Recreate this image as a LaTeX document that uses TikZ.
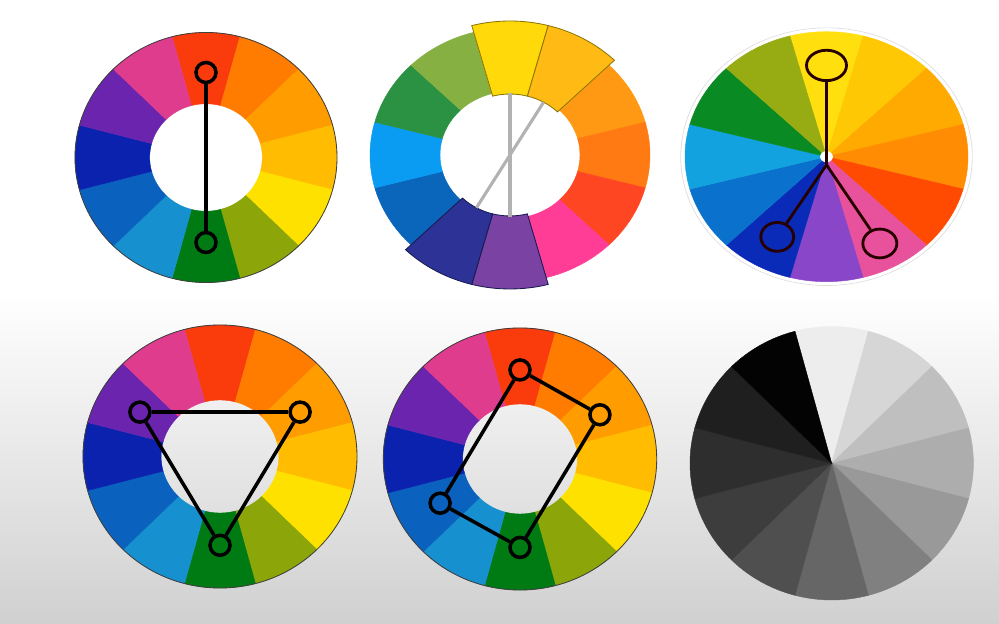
\documentclass[tikz,border=0pt]{standalone}
\usetikzlibrary{shapes.geometric}

% --- Palettes ---
\definecolor{aRed}{HTML}{FA3C0C}
\definecolor{aOrange}{HTML}{FF7C00}
\definecolor{aOrangeYel}{HTML}{FF9C00}
\definecolor{aAmber}{HTML}{FFBC00}
\definecolor{aYellow}{HTML}{FFE100}
\definecolor{aOlive}{HTML}{8CA60A}
\definecolor{aGreen}{HTML}{007A12}
\definecolor{aTeal}{HTML}{1790CF}
\definecolor{aBlue}{HTML}{0A62BE}
\definecolor{aNavy}{HTML}{0A22AE}
\definecolor{aPurple}{HTML}{6A24AE}
\definecolor{aMagenta}{HTML}{DF3C8E}

\definecolor{bYellow}{HTML}{FFD90A}
\definecolor{bAmber}{HTML}{FFBA14}
\definecolor{bOrange}{HTML}{FF9812}
\definecolor{bDeepOrange}{HTML}{FF7A12}
\definecolor{bRedOrange}{HTML}{FF4622}
\definecolor{bPink}{HTML}{FF3C96}
\definecolor{bViolet}{HTML}{7A42A2}
\definecolor{bIndigo}{HTML}{2C3296}
\definecolor{bBlue}{HTML}{0A66BA}
\definecolor{bSky}{HTML}{0A9CF2}
\definecolor{bGreen}{HTML}{2A9242}
\definecolor{bOlive}{HTML}{86B042}

\definecolor{cYellow}{HTML}{FFE00E}
\definecolor{cGold}{HTML}{FFC804}
\definecolor{cAmber}{HTML}{FFAA00}
\definecolor{cOrange}{HTML}{FF8C02}
\definecolor{cRedOrange}{HTML}{FF4A02}
\definecolor{cPink}{HTML}{E8529C}
\definecolor{cViolet}{HTML}{8A46C8}
\definecolor{cNavy}{HTML}{0A2AB8}
\definecolor{cBlue}{HTML}{0A72CC}
\definecolor{cSky}{HTML}{12A2E0}
\definecolor{cGreen}{HTML}{0A8A22}
\definecolor{cOlive}{HTML}{96AC12}

\definecolor{bgGray}{HTML}{D0D0D0}

\tikzset{
    segFill/.style={fill=#1, draw=#1, line width=0.3pt},
    ringEdge/.style={draw=black!75, line width=0.6pt},
    ringMark/.style={circle, draw=black, line width=2.5pt, minimum size=0.5cm, inner sep=0pt},
    markLine/.style={black, line width=2.5pt},
    pieMark/.style={ellipse, draw=black!85!red, line width=2pt, inner sep=0pt},
    pieLine/.style={black!85!red, line width=2pt},
    grayLine/.style={black!30, line width=2.2pt}
}

\begin{document}
\begin{tikzpicture}[x=0.025cm, y=0.025cm]

    % --- Dimensions ---
    \def\RingIn{0.43}
    \def\PaletteA{90/aRed, 60/aOrange, 30/aOrangeYel, 0/aAmber, -30/aYellow, -60/aOlive, -90/aGreen, -120/aTeal, -150/aBlue, 180/aNavy, 150/aPurple, 120/aMagenta}

    % --- Background ---
    \useasboundingbox (0,0) rectangle (999,624);
    \fill[white] (0,0) rectangle (999,624);
    \shade[top color=white, bottom color=bgGray] (0,0) rectangle (999,330);

    % --- Complementary wheel ---
    \begin{scope}[shift={(206,466.5)}, xscale=131, yscale=125]
        \foreach \a/\c in \PaletteA
            \filldraw[segFill=\c] ({\a-15}:\RingIn) arc[start angle=\a-15, end angle=\a+15, radius=\RingIn]
                -- ({\a+15}:1) arc[start angle=\a+15, end angle=\a-15, radius=1] -- cycle;
        \draw[ringEdge] (0,0) circle (1);
        \node[ringMark] (compTop) at (90:0.68) {};
        \node[ringMark] (compBot) at (-90:0.68) {};
        \draw[markLine] (compTop) -- (compBot);
    \end{scope}

    % --- Split complementary wheel ---
    \begin{scope}[shift={(510,469)}, xscale=140, yscale=127]
        \foreach \a/\c in {30/bOrange, 0/bDeepOrange, -30/bRedOrange, -60/bPink, -150/bBlue, 180/bSky, 150/bGreen, 120/bOlive, 90/bYellow, 60/bAmber, -90/bViolet, -120/bIndigo}
            \filldraw[segFill=\c] ({\a-15}:0.5) arc[start angle=\a-15, end angle=\a+15, radius=0.5]
                -- ({\a+15}:1) arc[start angle=\a+15, end angle=\a-15, radius=1] -- cycle;
        % raised segments
        \foreach \a/\c/\e in {90/bYellow/bYellow, 60/bAmber/bYellow, -90/bViolet/bIndigo, -120/bIndigo/bIndigo}
            \filldraw[fill=\c, draw=\e!55!black, line width=0.6pt] ({\a-15}:0.48) arc[start angle=\a-15, end angle=\a+15, radius=0.48]
                -- ({\a+15}:1.055) arc[start angle=\a+15, end angle=\a-15, radius=1.055] -- cycle;
        \coordinate (splitA) at (90:0.49);
        \coordinate (splitB) at (-90:0.49);
        \coordinate (splitC) at (60:0.48);
        \coordinate (splitD) at (240:0.48);
        \draw[grayLine] (splitA) -- (splitB);
        \draw[grayLine] (splitC) -- (splitD);
    \end{scope}

    % --- Analogous pie ---
    \begin{scope}[shift={(826.5,467.3)}, xscale=141.5, yscale=125]
        \draw[black!12, line width=0.6pt] (0,0) circle (1.03);
        \draw[white, line width=2.5pt] (0,0) circle (1.012);
        \foreach \a/\c in {90/cYellow, 60/cGold, 30/cAmber, 0/cOrange, -30/cRedOrange, -60/cPink, -90/cViolet, -120/cNavy, -150/cBlue, 180/cSky, 150/cGreen, 120/cOlive}
            \filldraw[segFill=\c] (0,0) -- ({\a-15}:1) arc[start angle=\a-15, end angle=\a+15, radius=1] -- cycle;
        \fill[white] (0,0) circle (0.045);
        \node[pieMark, minimum width=1.0cm, minimum height=0.76cm] (pieTop) at (90:0.73) {};
        \node[pieMark, minimum width=0.82cm, minimum height=0.72cm] (pieLeft) at (241.5:0.73) {};
        \node[pieMark, minimum width=0.85cm, minimum height=0.72cm] (pieRight) at (-61.5:0.79) {};
        \coordinate (pieMid) at (0,-0.066);
        \draw[pieLine] (pieTop) -- (pieMid) -- (pieLeft);
        \draw[pieLine] (pieMid) -- (pieRight);
    \end{scope}

    % --- Triad wheel ---
    \begin{scope}[shift={(220,167.5)}, xscale=137, yscale=131.5]
        \foreach \a/\c in \PaletteA
            \filldraw[segFill=\c] ({\a-15}:\RingIn) arc[start angle=\a-15, end angle=\a+15, radius=\RingIn]
                -- ({\a+15}:1) arc[start angle=\a+15, end angle=\a-15, radius=1] -- cycle;
        \draw[ringEdge] (0,0) circle (1);
        \node[ringMark] (triLeft) at (150:0.675) {};
        \node[ringMark] (triRight) at (30:0.675) {};
        \node[ringMark] (triBot) at (-90:0.675) {};
        \draw[markLine] (triLeft) -- (triRight);
        \draw[markLine] (triRight) -- (triBot);
        \draw[markLine] (triBot) -- (triLeft);
    \end{scope}

    % --- Tetrad wheel ---
    \begin{scope}[shift={(520,165)}, xscale=136.7, yscale=131]
        \foreach \a/\c in \PaletteA
            \filldraw[segFill=\c] ({\a-15}:0.42) arc[start angle=\a-15, end angle=\a+15, radius=0.42]
                -- ({\a+15}:1) arc[start angle=\a+15, end angle=\a-15, radius=1] -- cycle;
        \draw[ringEdge] (0,0) circle (1);
        \node[ringMark] (tetTop) at (90:0.68) {};
        \node[ringMark] (tetRight) at (30:0.675) {};
        \node[ringMark] (tetBot) at (-90:0.675) {};
        \node[ringMark] (tetLeft) at (210:0.675) {};
        \draw[markLine] (tetTop) -- (tetRight);
        \draw[markLine] (tetRight) -- (tetBot);
        \draw[markLine] (tetBot) -- (tetLeft);
        \draw[markLine] (tetLeft) -- (tetTop);
    \end{scope}

    % --- Grayscale pie ---
    \begin{scope}[shift={(831.7,160.7)}, xscale=141.7, yscale=136.7]
        \foreach \a/\g in {90/7, 60/16, 30/25, 0/32, -30/40, -60/50, -90/60, -120/69, -150/76, 180/82, 150/88, 120/99}
            \filldraw[segFill=black!\g!white] (0,0) -- ({\a-15}:1) arc[start angle=\a-15, end angle=\a+15, radius=1] -- cycle;
    \end{scope}

\end{tikzpicture}
\end{document}
